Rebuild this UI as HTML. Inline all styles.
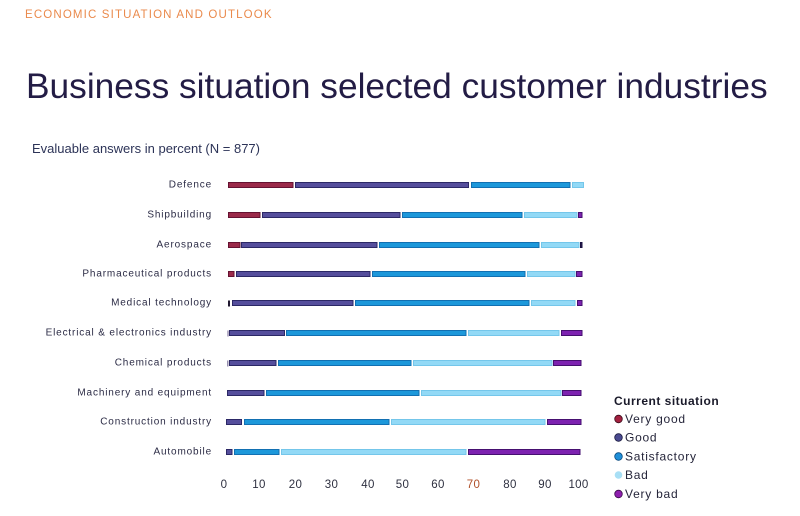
<!DOCTYPE html>
<html><head><meta charset="utf-8"><style>
html,body{margin:0;padding:0;background:#fff;}
svg{display:block;}
text{font-family:"Liberation Sans",sans-serif;}
.cat{font-size:10px;letter-spacing:0.85px;fill:#2b2b45;text-anchor:end;dominant-baseline:central;}
.tick{font-size:11.5px;fill:#2e3040;text-anchor:middle;dominant-baseline:central;letter-spacing:0.3px;}
.leg{font-size:12px;letter-spacing:0.75px;fill:#25253a;dominant-baseline:central;}
.vg{fill:#9b2a4a;stroke:#651232;}
.g{fill:#554e9c;stroke:#2c2866;}
.s{fill:#1d98da;stroke:#1270b2;}
.b{fill:#92d9f6;stroke:#74c6ea;}
.vb{fill:#7d22b0;stroke:#461070;}
rect{stroke-width:1;}
</style></head><body>
<svg width="800" height="516" viewBox="0 0 800 516" xmlns="http://www.w3.org/2000/svg">
<text x="25" y="18" style="font-size:11.5px;letter-spacing:1.15px;fill:#ea8a4c;">ECONOMIC SITUATION AND OUTLOOK</text>
<text x="26" y="98" style="font-size:35.3px;fill:#231c45;">Business situation selected customer industries</text>
<text x="32" y="153" style="font-size:13px;fill:#2c3357;">Evaluable answers in percent (N = 877)</text>

<g>
<text class="cat" x="212" y="185">Defence</text>
<text class="cat" x="212" y="215">Shipbuilding</text>
<text class="cat" x="212" y="245">Aerospace</text>
<text class="cat" x="212" y="274">Pharmaceutical products</text>
<text class="cat" x="212" y="303">Medical technology</text>
<text class="cat" x="212" y="333">Electrical &amp; electronics industry</text>
<text class="cat" x="212" y="363">Chemical products</text>
<text class="cat" x="212" y="393">Machinery and equipment</text>
<text class="cat" x="212" y="422">Construction industry</text>
<text class="cat" x="212" y="452">Automobile</text>
</g>

<!-- Defence y=185 -->
<g>
<rect class="vg" x="228.5" y="182.5" width="64.5" height="5"/>
<rect class="g" x="295.5" y="182.5" width="173" height="5"/>
<rect class="s" x="471.5" y="182.5" width="98.5" height="5"/>
<rect class="b" x="572.5" y="182.5" width="11" height="5"/>
</g>
<!-- Shipbuilding y=215 -->
<g>
<rect class="vg" x="228.5" y="212.5" width="31.5" height="5"/>
<rect class="g" x="262.5" y="212.5" width="137.5" height="5"/>
<rect class="s" x="402.5" y="212.5" width="119.5" height="5"/>
<rect class="b" x="524.5" y="212.5" width="52.5" height="5"/>
<rect class="vb" x="578.5" y="212.5" width="3.5" height="5"/>
</g>
<!-- Aerospace y=245 -->
<g>
<rect class="vg" x="228.5" y="242.5" width="11.5" height="5"/>
<rect class="g" x="241.5" y="242.5" width="135.5" height="5"/>
<rect class="s" x="379.5" y="242.5" width="159.5" height="5"/>
<rect class="b" x="541.5" y="242.5" width="37.5" height="5"/>
<rect x="580.5" y="242.5" width="1.5" height="5" style="fill:#2a2050;stroke:#1a1040;"/>
</g>
<!-- Pharma y=274 -->
<g>
<rect class="vg" x="228.5" y="271.5" width="5.5" height="5"/>
<rect class="g" x="236.5" y="271.5" width="133.5" height="5"/>
<rect class="s" x="372.5" y="271.5" width="152.5" height="5"/>
<rect class="b" x="527.5" y="271.5" width="47.5" height="5"/>
<rect class="vb" x="576.5" y="271.5" width="5.5" height="5"/>
</g>
<!-- Medical y=303 -->
<g>
<rect x="228" y="300.5" width="2" height="6" style="fill:#201830;stroke:none;"/>
<rect class="g" x="232.5" y="300.5" width="120.5" height="5"/>
<rect class="s" x="355.5" y="300.5" width="173.5" height="5"/>
<rect class="b" x="531.5" y="300.5" width="43.5" height="5"/>
<rect class="vb" x="577.5" y="300.5" width="4.5" height="5"/>
</g>
<!-- Electrical y=333 -->
<g>
<rect x="227" y="330.5" width="2" height="6" style="fill:#b8b0c8;stroke:none;"/>
<rect class="g" x="229.5" y="330.5" width="55" height="5"/>
<rect class="s" x="286.5" y="330.5" width="179.5" height="5"/>
<rect class="b" x="468.5" y="330.5" width="90.5" height="5"/>
<rect class="vb" x="561.5" y="330.5" width="20.5" height="5"/>
</g>
<!-- Chemical y=363 -->
<g>
<rect x="227" y="360.5" width="1.5" height="6" style="fill:#9890b0;stroke:none;"/>
<rect class="g" x="229.5" y="360.5" width="46.5" height="5"/>
<rect class="s" x="278.5" y="360.5" width="132.5" height="5"/>
<rect class="b" x="413.5" y="360.5" width="138.5" height="5"/>
<rect class="vb" x="553.5" y="360.5" width="27.5" height="5"/>
</g>
<!-- Machinery y=393 -->
<g>
<rect class="g" x="227.5" y="390.5" width="36.5" height="5"/>
<rect class="s" x="266.5" y="390.5" width="152.5" height="5"/>
<rect class="b" x="421.5" y="390.5" width="139.5" height="5"/>
<rect class="vb" x="562.5" y="390.5" width="18.5" height="5"/>
</g>
<!-- Construction y=422 -->
<g>
<rect class="g" x="226.5" y="419.5" width="15" height="5"/>
<rect class="s" x="244.5" y="419.5" width="144.5" height="5"/>
<rect class="b" x="391.5" y="419.5" width="153.5" height="5"/>
<rect class="vb" x="547.5" y="419.5" width="33.5" height="5"/>
</g>
<!-- Automobile y=452 -->
<g>
<rect class="g" x="226.5" y="449.5" width="5.5" height="5"/>
<rect class="s" x="234.5" y="449.5" width="44.5" height="5"/>
<rect class="b" x="281.5" y="449.5" width="184.5" height="5"/>
<rect class="vb" x="468.5" y="449.5" width="111.5" height="5"/>
</g>

<g>
<text class="tick" x="224" y="485">0</text>
<text class="tick" x="259" y="485">10</text>
<text class="tick" x="295.5" y="485">20</text>
<text class="tick" x="331.5" y="485">30</text>
<text class="tick" x="368" y="485">40</text>
<text class="tick" x="402.5" y="485">50</text>
<text class="tick" x="438" y="485">60</text>
<text class="tick" x="473.5" y="485" style="fill:#b0502a;">70</text>
<text class="tick" x="510" y="485">80</text>
<text class="tick" x="545" y="485">90</text>
<text class="tick" x="578.5" y="485">100</text>
</g>

<g>
<text x="614" y="405" style="font-size:12px;font-weight:bold;letter-spacing:0.5px;fill:#1a1a2a;">Current situation</text>
<circle cx="618.5" cy="419" r="3.8" style="fill:#a3203f;stroke:#3a0a1a;stroke-width:0.8;"/>
<text class="leg" x="625" y="419">Very good</text>
<circle cx="618.5" cy="437.5" r="3.8" style="fill:#4a4a90;stroke:#1a1a40;stroke-width:0.8;"/>
<text class="leg" x="625" y="437.5">Good</text>
<circle cx="618.5" cy="456.5" r="3.8" style="fill:#1f8fd8;stroke:#0a4a80;stroke-width:0.8;"/>
<text class="leg" x="625" y="456.5">Satisfactory</text>
<circle cx="618.5" cy="475" r="3.8" style="fill:#a8dff5;stroke:none;"/>
<text class="leg" x="625" y="475">Bad</text>
<circle cx="618.5" cy="494" r="3.8" style="fill:#8e1fae;stroke:#3a0a4a;stroke-width:0.8;"/>
<text class="leg" x="625" y="494">Very bad</text>
</g>
</svg>
</body></html>
